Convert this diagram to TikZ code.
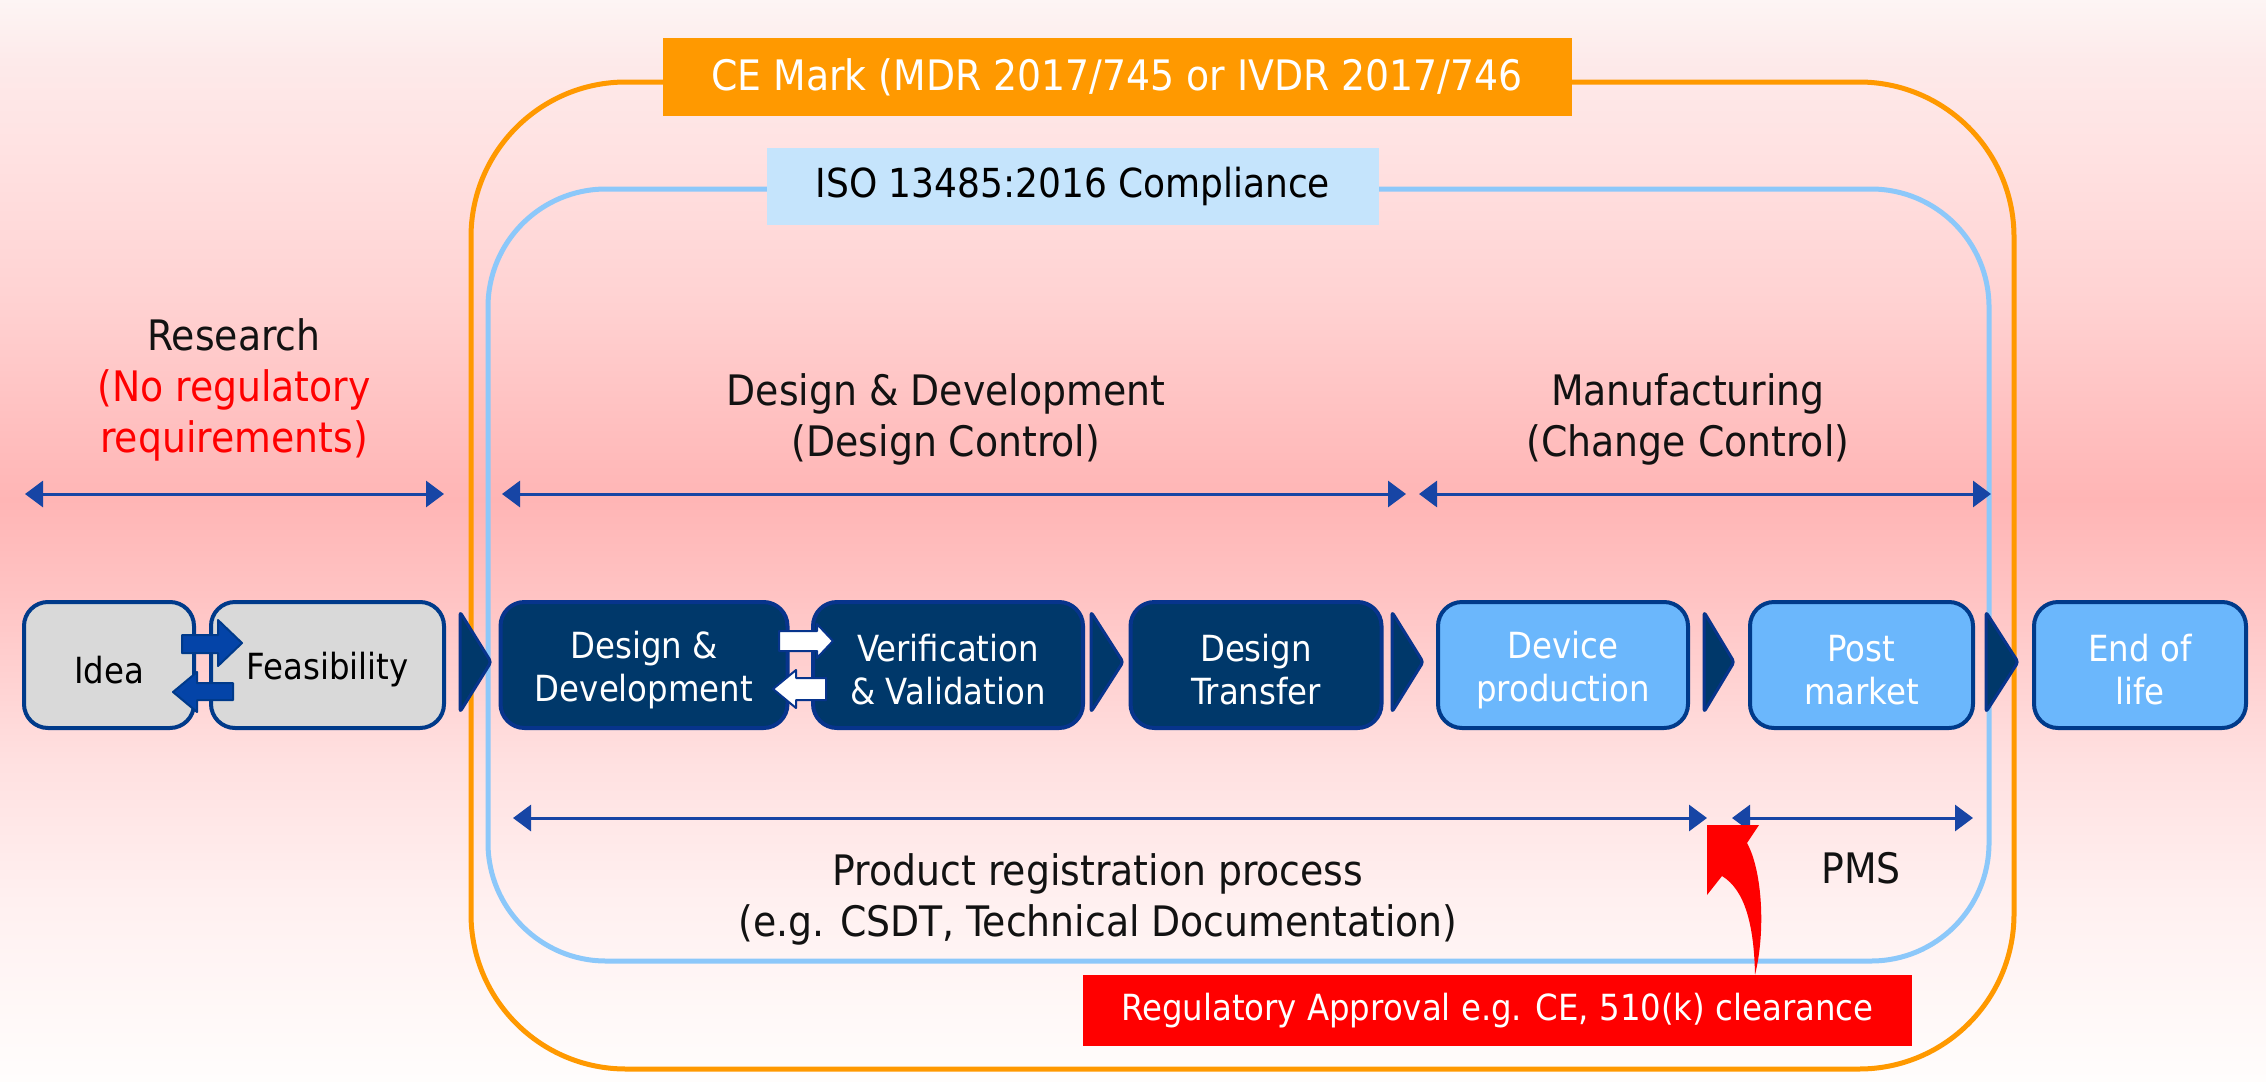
\documentclass[tikz,border=0pt]{standalone}
\usepackage{fontspec}
\setmainfont{DejaVu Sans Condensed}
\usetikzlibrary{arrows.meta}

% palette
\definecolor{ceorange}{HTML}{FF9900}
\definecolor{isoblue}{HTML}{8CC8FA}
\definecolor{isofill}{HTML}{C5E4FC}
\definecolor{navy}{HTML}{00386A}
\definecolor{navyedge}{HTML}{07348C}
\definecolor{skyfill}{HTML}{6BB7FC}
\definecolor{edgeblue}{HTML}{003A8A}
\definecolor{spanblue}{HTML}{1745A5}
\definecolor{grayfill}{HTML}{D9D9D9}
\definecolor{swapblue}{HTML}{0444A8}
\definecolor{regred}{HTML}{FF0000}

% backdrop colours, top to bottom
\definecolor{bg0}{HTML}{FDF5F4}
\definecolor{bg1}{HTML}{FDEAEA}
\definecolor{bg2}{HTML}{FFE2E2}
\definecolor{bg3}{HTML}{FFD2D2}
\definecolor{bg4}{HTML}{FFC0C0}
\definecolor{bg5}{HTML}{FFB5B5}
\definecolor{bg6}{HTML}{FFC4C4}
\definecolor{bg7}{HTML}{FFE0E0}
\definecolor{bg8}{HTML}{FFF0F0}
\definecolor{bg9}{HTML}{FFFDFC}

\tikzset{
  every node/.style={inner sep=0pt},
  stagebox/.style={rounded corners=24, line width=4, minimum height=126},
  greybox/.style={stagebox, fill=grayfill, draw=edgeblue},
  darkbox/.style={stagebox, fill=navy, draw=navyedge},
  lightbox/.style={stagebox, fill=skyfill, draw=edgeblue},
  boxtext/.style={align=center, yshift=-5pt, font=\fontsize{36}{43}\selectfont},
  chev/.style={fill=navy, draw=navyedge, line width=3, rounded corners=3, line join=round},
  spanarrow/.style={draw=spanblue, line width=3,
    {Triangle[length=18pt,width=26pt]}-{Triangle[length=18pt,width=26pt]}},
  phasetext/.style={align=center, text=black!93, font=\fontsize{42}{51}\selectfont},
  swapdark/.style={fill=swapblue, draw=edgeblue, line width=2, line join=round},
  swaplight/.style={fill=white, draw=navyedge, line width=2, line join=round},
  framelabel/.style={minimum height=77, font=\fontsize{42}{50}\selectfont}
}

% stage box: style, name, centre x, width, text colour, text
\newcommand{\stagenode}[6]{%
  \node[#1, minimum width=#4, label={[boxtext, text=#5]center:{#6}}] (#2) at (#3,665) {};}
\newcommand{\chevat}[2]{\filldraw[chev] (#1,612) -- (#2,662) -- (#1,712) -- cycle;}

\begin{document}
\begin{tikzpicture}[x=1pt, y=-1pt]
\useasboundingbox (0,0) rectangle (2266,1081);
% soft pink backdrop, banded vertical blend
\foreach \ya/\yb/\ca/\cb in {0/60/bg0/bg1, 60/150/bg1/bg2, 150/300/bg2/bg3,
    300/420/bg3/bg4, 420/500/bg4/bg5, 500/600/bg5/bg6, 600/760/bg6/bg7,
    760/900/bg7/bg8, 900/1081/bg8/bg9}
  \shade[top color=\ca, bottom color=\cb] (0,\ya-0.5) rectangle (2266,\yb+0.5);

% regulatory frames
\draw[ceorange, line width=5, rounded corners=155] (471,82) rectangle (2014,1069);
\draw[isoblue, line width=5, rounded corners=118] (488,189) rectangle (1989,961);
\node[framelabel, fill=ceorange, text=white, minimum width=909] (ce) at (1117,77)
  {CE Mark (MDR 2017/745 or IVDR 2017/746};
\node[framelabel, fill=isofill, text=black, minimum width=612,
  font=\fontsize{40}{48}\selectfont] (iso) at (1073,186.5) {ISO 13485:2016 Compliance};

% phase headings
\node[phasetext] (research) at (234,390)
  {Research\\\textcolor{regred}{(No regulatory}\\\textcolor{regred}{requirements)}};
\node[phasetext] (ddhead) at (946,419) {Design \& Development\\(Design Control)};
\node[phasetext] (mfhead) at (1688,419) {Manufacturing\\(Change Control)};

% phase spans
\coordinate (resL) at (25,494);   \coordinate (resR) at (444,494);
\coordinate (ddL)  at (502,494);  \coordinate (ddR)  at (1406,494);
\coordinate (mfL)  at (1419,494); \coordinate (mfR)  at (1991,494);
\draw[spanarrow] (resL) -- (resR);
\draw[spanarrow] (ddL) -- (ddR);
\draw[spanarrow] (mfL) -- (mfR);

% life-cycle stages
\stagenode{greybox}{idea}{109}{170}{black}{Idea}
\stagenode{greybox}{feas}{327.5}{233}{black}{Feasibility}
\stagenode{darkbox}{dd}{644}{287}{white}{Design \&\\Development}
\stagenode{darkbox}{vv}{948}{270}{white}{Verification\\\& Validation}
\stagenode{darkbox}{dt}{1256}{251}{white}{Design\\Transfer}
\stagenode{lightbox}{dp}{1563}{250}{white}{Device\\production}
\stagenode{lightbox}{pm}{1861.5}{223}{white}{Post\\market}
\stagenode{lightbox}{eol}{2140}{212}{white}{End of\\life}

\chevat{460}{491}
\chevat{1091}{1123}
\chevat{1392}{1423}
\chevat{1704}{1734}
\chevat{1986}{2018}

% iteration arrows
\filldraw[swapdark] (182,635) -- (218,635) -- (218,620) -- (242,643) -- (218,666)
  -- (218,653) -- (182,653) -- cycle;
\filldraw[swapdark] (233,683) -- (197,683) -- (197,672) -- (173,692) -- (197,712)
  -- (197,700) -- (233,700) -- cycle;
\filldraw[swaplight] (779,631) -- (817,631) -- (817,624) -- (833,641) -- (817,658)
  -- (817,651) -- (779,651) -- cycle;
\filldraw[swaplight] (826,678) -- (796,678) -- (796,670) -- (773,689) -- (796,708)
  -- (796,700) -- (826,700) -- cycle;

% registration and surveillance spans
\coordinate (prL)  at (513,818);  \coordinate (prR)  at (1707,818);
\coordinate (pmsL) at (1732,818); \coordinate (pmsR) at (1973,818);
\draw[spanarrow] (prL) -- (prR);
\draw[spanarrow] (pmsL) -- (pmsR);
\node[phasetext] (prtext) at (1098,899)
  {Product registration process\\(e.g. CSDT, Technical Documentation)};
\node[phasetext] (pms) at (1861,868) {PMS};

% approval milestone
\node[fill=regred, text=white, minimum width=829, minimum height=71,
  font=\fontsize{36}{43}\selectfont] (approval) at (1497.5,1010.5)
  {Regulatory Approval e.g. CE, 510(k) clearance};
\coordinate (apptail) at (approval.north -| 1755,0);
\fill[regred] (apptail) .. controls (1766,930) and (1762,870) .. (1747,843)
  -- (1759,825) -- (1707,825) -- (1707,895) -- (1722,876)
  .. controls (1745,890) and (1754,925) .. (apptail) -- cycle;
\end{tikzpicture}
\end{document}
